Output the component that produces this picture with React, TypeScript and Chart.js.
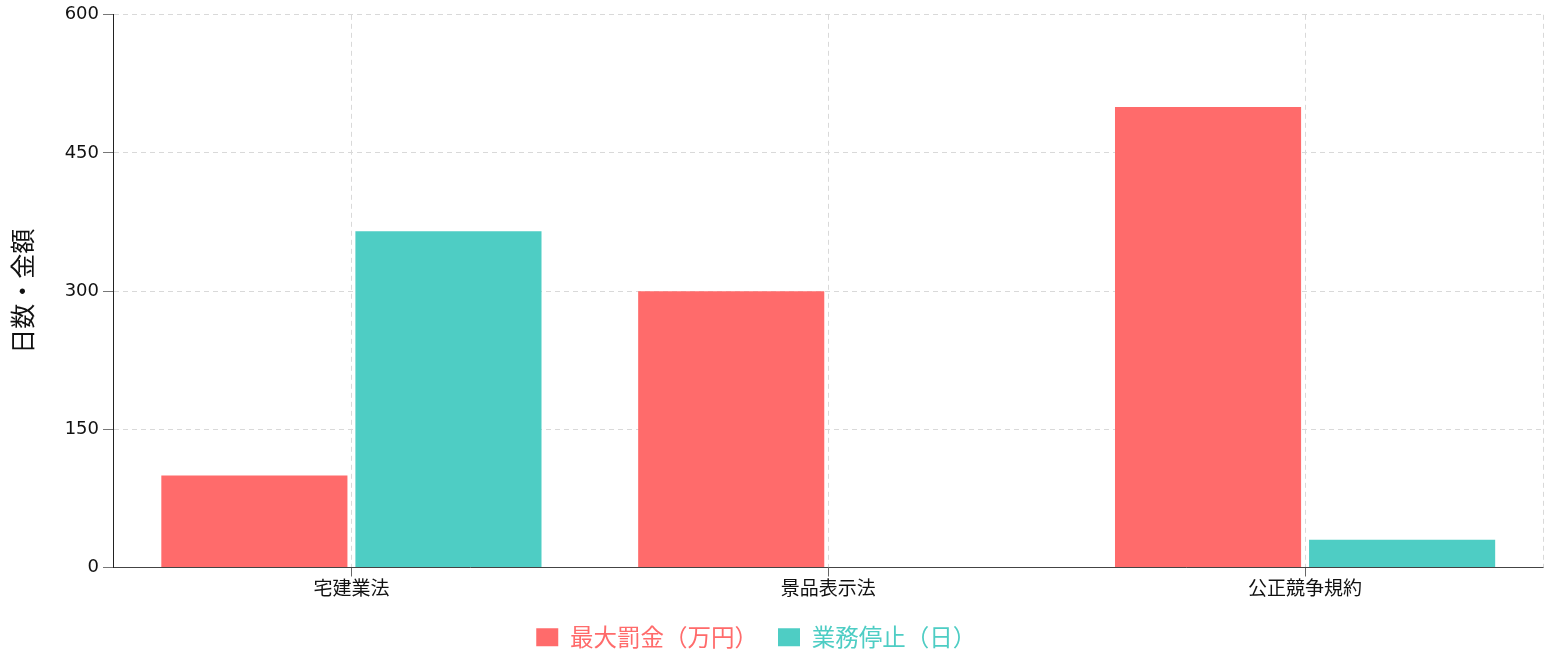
import React, { useEffect, useRef } from 'react';
import { Chart, registerables } from 'chart.js';

Chart.register(...registerables);

const categories = ['宅建業法', '景品表示法', '公正競争規約'];
const maxFine = [100, 300, 500]; // 最大罰金（万円）
const suspensionDays = [365, 0, 30]; // 業務停止（日）
const yTicks = [0, 150, 300, 450, 600];

const RED = '#FF6B6B';
const TEAL = '#4ECDC4';
const GRID = '#d9d9d9';
const DASH = [5, 4];
const CJK = "'Noto Sans CJK JP', 'Noto Sans', sans-serif";

// dashed line on the right edge of the plot, like the rest of the grid
const rightEdge = {
  id: 'rightEdge',
  beforeDatasetsDraw(chart: any) {
    const { ctx, chartArea } = chart;
    ctx.save();
    ctx.strokeStyle = GRID;
    ctx.lineWidth = 1;
    ctx.setLineDash(DASH);
    ctx.beginPath();
    ctx.moveTo(chartArea.right, chartArea.top);
    ctx.lineTo(chartArea.right, chartArea.bottom);
    ctx.stroke();
    ctx.restore();
  },
};

const App: React.FC = () => {
  const chartRef = useRef<HTMLCanvasElement>(null);

  useEffect(() => {
    const ctx = chartRef.current?.getContext('2d');
    if (!ctx) {
      return;
    }

    const chart = new Chart(ctx, {
      type: 'bar',
      data: {
        labels: categories,
        datasets: [
          {
            label: '最大罰金（万円）',
            data: maxFine,
            backgroundColor: RED,
            borderWidth: 0,
            categoryPercentage: 0.814,
            barPercentage: 0.959,
          },
          {
            label: '業務停止（日）',
            data: suspensionDays,
            backgroundColor: TEAL,
            borderWidth: 0,
            categoryPercentage: 0.814,
            barPercentage: 0.959,
          },
        ],
      },
      plugins: [rightEdge],
      options: {
        responsive: true,
        maintainAspectRatio: false,
        animation: false,
        layout: { padding: { top: 13, right: 0.5, bottom: 0, left: 0 } },
        plugins: {
          tooltip: { enabled: false },
          legend: {
            position: 'bottom',
            labels: {
              boxWidth: 22,
              boxHeight: 18,
              padding: 20,
              font: { family: CJK, size: 23.5 },
              generateLabels: (c: any) =>
                Chart.defaults.plugins.legend.labels
                  .generateLabels(c)
                  .map((l: any) => ({ ...l, fontColor: l.fillStyle, lineWidth: 0 })),
            },
          },
        },
        scales: {
          x: {
            afterFit: (scale: any) => {
              scale.height = 38;
            },
            grid: {
              offset: false,
              color: GRID,
              tickColor: '#666',
              tickLength: 9,
              tickBorderDash: [],
            },
            border: { color: '#444', width: 1, dash: DASH },
            ticks: {
              color: '#111',
              padding: 0,
              font: { family: CJK, size: 19 },
            },
          },
          y: {
            min: 0,
            max: 600,
            afterFit: (scale: any) => {
              scale.width = 144;
            },
            afterBuildTicks: (scale: any) => {
              scale.ticks = yTicks.map((v) => ({ value: v }));
            },
            grid: {
              color: GRID,
              tickColor: '#777',
              tickLength: 10,
              tickBorderDash: [],
            },
            border: { color: '#222', width: 1, dash: DASH },
            ticks: {
              color: '#111',
              padding: 4,
              font: { family: "'DejaVu Sans', sans-serif", size: 18 },
            },
            title: {
              display: true,
              text: '日数・金額',
              color: '#111',
              padding: { top: 38 },
              font: { family: CJK, size: 25 },
            },
          },
        },
      },
    });
    return () => {
      chart.destroy();
    };
  }, []);

  return (
    <div style={{ position: 'fixed', left: -31, top: 0, width: 1575, height: 659 }}>
      <canvas ref={chartRef}></canvas>
    </div>
  );
};

export default App;
